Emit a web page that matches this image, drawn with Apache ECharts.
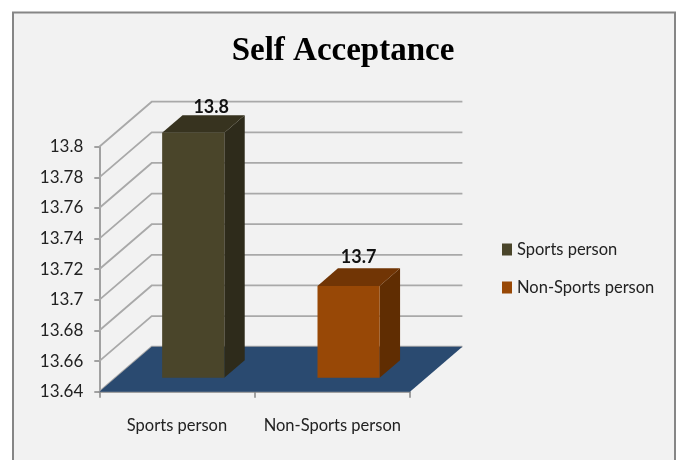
<!DOCTYPE html>
<html>
<head>
<meta charset="utf-8">
<style>html,body{margin:0;padding:0;background:#fff;overflow:hidden}#c{width:678px;height:460px}</style>
<script src="https://cdn.jsdelivr.net/npm/echarts@6/dist/echarts.min.js"></script>
</head>
<body>
<div id="c"></div>
<script>
var chartTitle = 'Self Acceptance';
var categories = ['Sports person', 'Non-Sports person'];
var seriesNames = ['Sports person', 'Non-Sports person'];
var sportsValues = [13.8];
var nonSportsValues = [13.7];
var yTicks = [13.64, 13.66, 13.68, 13.7, 13.72, 13.74, 13.76, 13.78, 13.8];

var DEPTH_X = 52.4, DEPTH_Y = 45;          // wall depth in pixels
var BAR_NEAR = 0.31, BAR_FAR = 0.70;       // bar position along the depth
var BAR_WIDTH = 0.4;                       // share of the category band
var UI_FONT = 'Lato';

function wallItem(params, api) {
  var cs = params.coordSys;
  var y = api.coord([0, api.value(0)])[1];
  return {
    type: 'polyline', silent: true,
    shape: { points: [[cs.x, y], [cs.x + DEPTH_X, y - DEPTH_Y], [cs.x + cs.width + DEPTH_X, y - DEPTH_Y]] },
    style: { fill: null, stroke: '#a9a9a9', lineWidth: 1.8 }
  };
}
function floorItem(params) {
  var cs = params.coordSys, b = cs.y + cs.height;
  return {
    type: 'polygon', silent: true,
    shape: { points: [[cs.x, b], [cs.x + DEPTH_X, b - DEPTH_Y], [cs.x + cs.width + DEPTH_X, b - DEPTH_Y], [cs.x + cs.width, b]] },
    style: { fill: '#2a4a70' }
  };
}
function barRenderer(front, top, side, labelDx, labelDy) {
  return function (params, api) {
    var cat = api.value(0), val = api.value(1);
    var base = api.coord([cat, yTicks[0]]);
    var head = api.coord([cat, val]);
    var w = api.size([1, 0])[0] * BAR_WIDTH;
    var nx = DEPTH_X * BAR_NEAR, ny = DEPTH_Y * BAR_NEAR;
    var fx = DEPTH_X * BAR_FAR, fy = DEPTH_Y * BAR_FAR;
    var l = base[0] - w / 2 + nx, r = base[0] + w / 2 + nx;
    var yb = base[1] - ny, yt = head[1] - ny;
    var dx = fx - nx, dy = fy - ny;
    return {
      type: 'group', silent: true,
      children: [
        { type: 'polygon', shape: { points: [[r, yb], [r + dx, yb - dy], [r + dx, yt - dy], [r, yt]] }, style: { fill: side } },
        { type: 'polygon', shape: { points: [[l, yt], [l + dx, yt - dy], [r + dx, yt - dy], [r, yt]] }, style: { fill: top } },
        { type: 'rect', shape: { x: l, y: yt, width: r - l, height: yb - yt }, style: { fill: front } },
        { type: 'text', x: (l + r) / 2 + labelDx, y: yt - dy - labelDy,
          style: { text: String(val), fill: '#111', font: 'bold 18px ' + UI_FONT, align: 'center', verticalAlign: 'middle' } }
      ]
    };
  };
}

var chart = echarts.init(document.getElementById('c'), null, { renderer: 'canvas', width: 678, height: 460 });
chart.setOption({
  animation: false,
  backgroundColor: '#ffffff',
  title: {
    text: chartTitle, left: 338, top: 30, textAlign: 'center',
    textStyle: { fontFamily: 'Liberation Serif', fontWeight: 'bold', fontSize: 33, color: '#000' }
  },
  graphic: [{
    type: 'rect', z: -10, silent: true,
    shape: { x: 13, y: 12.5, width: 662, height: 470 },
    style: { fill: '#f2f2f2', stroke: '#868686', lineWidth: 2 }
  }],
  legend: {
    orient: 'vertical', left: 502, top: 241, padding: 0, itemWidth: 10, itemHeight: 12, itemGap: 21,
    icon: 'rect', selectedMode: false, data: seriesNames,
    textStyle: { fontFamily: UI_FONT, fontSize: 16.5, color: '#222', lineHeight: 17 },
    itemStyle: { borderWidth: 0 }
  },
  grid: { left: 99.3, top: 146.7, width: 310.7, height: 245 },
  xAxis: {
    type: 'category', data: categories,
    axisLine: { lineStyle: { color: '#868686', width: 1.5 } },
    axisTick: { show: true, length: 6, lineStyle: { color: '#868686', width: 1.5 } },
    axisLabel: { margin: 25, color: '#222', fontFamily: UI_FONT, fontSize: 16.5, interval: 0 },
    splitLine: { show: false }
  },
  yAxis: {
    type: 'value', min: yTicks[0], max: yTicks[yTicks.length - 1], interval: 0.02,
    axisLine: { show: true, lineStyle: { color: '#868686', width: 1.5 } },
    axisTick: { show: true, length: 5, lineStyle: { color: '#868686', width: 1.5 } },
    axisLabel: { margin: 16, color: '#222', fontFamily: UI_FONT, fontSize: 17,
      formatter: function (v) { return String(+v.toFixed(2)); } },
    splitLine: { show: false }
  },
  series: [
    { type: 'custom', name: 'walls', coordinateSystem: 'cartesian2d', z: 1, silent: true,
      renderItem: wallItem, encode: { x: -1, y: 0 }, data: yTicks.map(function (t) { return [t]; }) },
    { type: 'custom', name: 'floor', coordinateSystem: 'cartesian2d', z: 2, silent: true,
      renderItem: floorItem, encode: { x: -1, y: -1 }, data: [[0]] },
    { type: 'custom', name: seriesNames[0], coordinateSystem: 'cartesian2d', z: 3,
      itemStyle: { color: '#4a452a' }, renderItem: barRenderer('#4a452a', '#37331f', '#2e2b1b', 18, 8),
      encode: { x: 0, y: 1 }, data: sportsValues.map(function (v) { return [0, v]; }) },
    { type: 'custom', name: seriesNames[1], coordinateSystem: 'cartesian2d', z: 3,
      itemStyle: { color: '#984806' }, renderItem: barRenderer('#984806', '#713505', '#602d02', 10, 11),
      encode: { x: 0, y: 1 }, data: nonSportsValues.map(function (v) { return [1, v]; }) }
  ]
});
</script>
</body>
</html>
